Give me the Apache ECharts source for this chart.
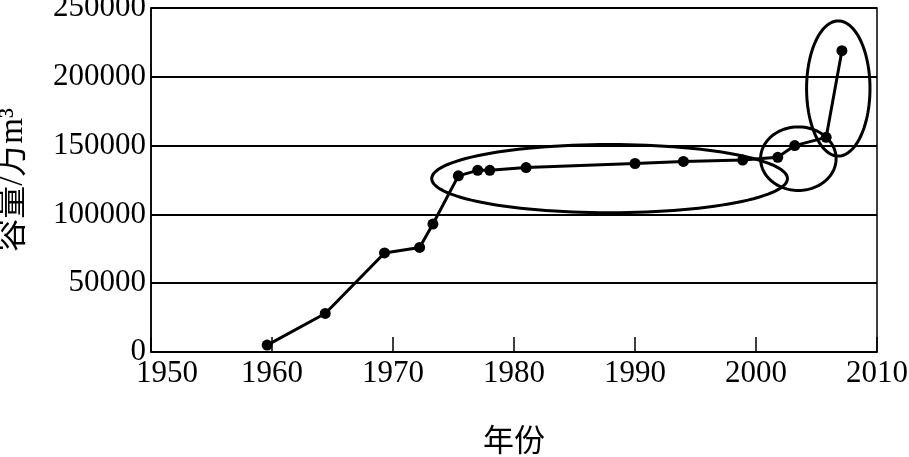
<!DOCTYPE html>
<html>
<head>
<meta charset="utf-8">
<script src="https://cdn.jsdelivr.net/npm/echarts@6/dist/echarts.min.js"></script>
<style>html,body{margin:0;padding:0;background:#fff;}#c{width:909px;height:457px;}</style>
</head>
<body>
<div id="c"></div>
<script>
var years = [1959.6, 1964.4, 1969.3, 1972.2, 1973.3, 1975.4, 1977, 1978, 1981, 1990, 1994, 1998.9, 2001.8, 2003.2, 2005.8, 2007.1];
var capacity = [5000, 28000, 72000, 76000, 93000, 128000, 132000, 132000, 134000, 137000, 138500, 139500, 141500, 150000, 156000, 219000];
var xTicks = [1950, 1960, 1970, 1980, 1990, 2000, 2010];
var yTicks = [0, 50000, 100000, 150000, 200000, 250000];
// annotation ellipses: [centerYear, centerValue, radiusYears, radiusValue]
var ellipseCenterX = [1987.9, 2003.5, 2006.8];
var ellipseCenterY = [126000, 140500, 191500];
var ellipseRadiusX = [14.7, 3.12, 2.62];
var ellipseRadiusY = [24800, 23100, 49100];

var FONT = '"Liberation Serif", "Times New Roman", "Noto Sans CJK SC", serif';
var chart = echarts.init(document.getElementById('c'));
var ellipseData = ellipseCenterX.map(function (cx, i) {
  return [cx, ellipseCenterY[i], ellipseRadiusX[i], ellipseRadiusY[i]];
});
chart.setOption({
  animation: false,
  backgroundColor: '#fff',
  grid: { left: 151, right: 32, top: 8, bottom: 105, containLabel: false, outerBoundsMode: 'none',
    show: true, borderColor: '#000', borderWidth: 1.5 },
  xAxis: {
    type: 'value', min: 1950, max: 2010, interval: 10,
    name: '年份', nameLocation: 'middle', nameGap: 75,
    nameTextStyle: { fontFamily: FONT, fontSize: 31, color: '#000' },
    axisLine: { show: true, lineStyle: { color: '#000', width: 1.5 } },
    axisTick: { show: true, inside: true, length: 15, lineStyle: { color: '#000', width: 1.5 } },
    splitLine: { show: false },
    axisLabel: { fontFamily: FONT, fontSize: 31, color: '#000', margin: 6,
      formatter: function (v) {
        if (xTicks.indexOf(v) < 0) return '';
        return v === xTicks[0] ? '{f|' + v + '}' : String(v);
      },
      rich: { f: { fontFamily: FONT, fontSize: 31, color: '#000', padding: [0, 0, 0, 32] } }
    }
  },
  yAxis: {
    type: 'value', min: 0, max: 250000, interval: 50000,
    name: '容量/万m³', nameLocation: 'middle', nameGap: 121, nameRotate: 90,
    nameTextStyle: { fontFamily: FONT, fontSize: 33, color: '#000' },
    axisLine: { show: true, lineStyle: { color: '#000', width: 1.5 } },
    axisTick: { show: false },
    splitLine: { show: true, lineStyle: { color: '#000', width: 2 } },
    axisLabel: { fontFamily: FONT, fontSize: 31, color: '#000', margin: 5, padding: [0, 0, 6, 0],
      formatter: function (v) { return yTicks.indexOf(v) >= 0 ? String(v) : ''; } }
  },
  series: [
    {
      type: 'line',
      data: years.map(function (y, i) { return [y, capacity[i]]; }),
      symbol: 'circle', symbolSize: 11,
      itemStyle: { color: '#000' },
      lineStyle: { color: '#000', width: 3 },
      z: 3
    },
    {
      type: 'custom',
      coordinateSystem: 'cartesian2d',
      data: ellipseData,
      silent: true,
      z: 4,
      renderItem: function (params, api) {
        var c = api.coord([api.value(0), api.value(1)]);
        var s = api.size([api.value(2), api.value(3)]);
        var pts = [];
        for (var k = 0; k < 120; k++) {
          var t = k / 120 * Math.PI * 2;
          pts.push([c[0] + s[0] * Math.cos(t), c[1] + s[1] * Math.sin(t)]);
        }
        return {
          type: 'polygon',
          shape: { points: pts },
          style: { fill: 'none', stroke: '#000', lineWidth: 3 }
        };
      }
    }
  ]
});
</script>
</body>
</html>
